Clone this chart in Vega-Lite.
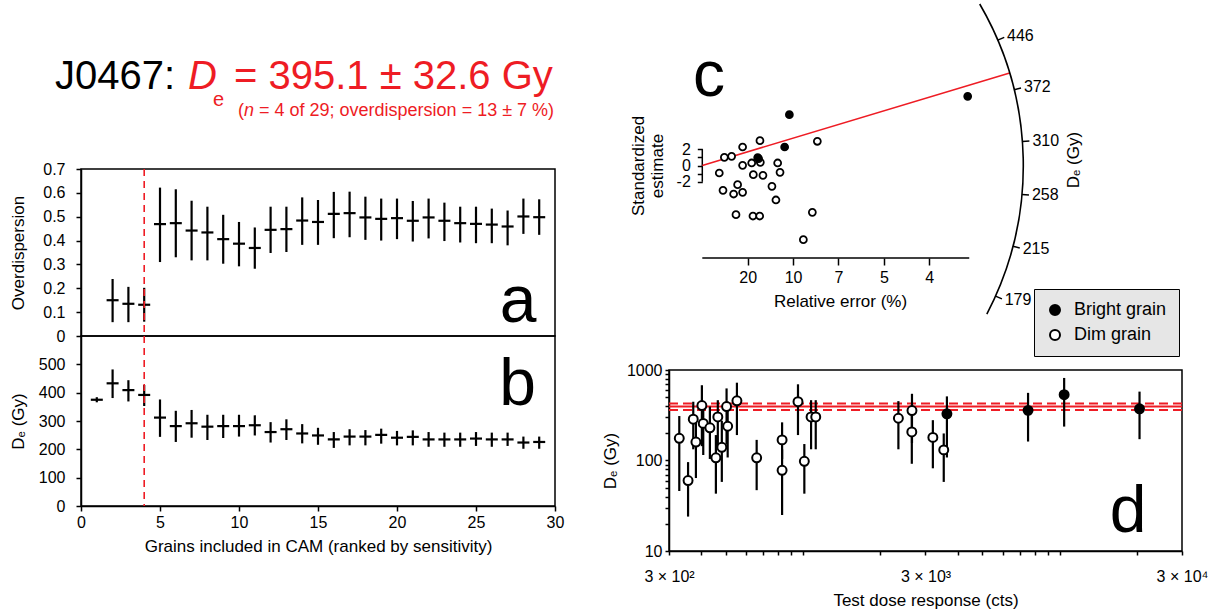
{
"$schema": "https://vega.github.io/schema/vega-lite/v6.json",
"background": "white",
"padding": {"left": 8, "top": 0, "right": 5, "bottom": 5},
"spacing": 35,
"datasets": {
 "cam": [
  {"n": 1, "od": null, "od_lo": null, "od_hi": null, "de": 375, "de_lo": 366, "de_hi": 384},
  {"n": 2, "od": 0.150, "od_lo": 0.058, "od_hi": 0.239, "de": 433, "de_lo": 381, "de_hi": 482},
  {"n": 3, "od": 0.135, "od_lo": 0.058, "od_hi": 0.206, "de": 409, "de_lo": 369, "de_hi": 444},
  {"n": 4, "od": 0.131, "od_lo": 0.060, "od_hi": 0.202, "de": 392, "de_lo": 353, "de_hi": 427},
  {"n": 5, "od": 0.469, "od_lo": 0.310, "od_hi": 0.622, "de": 312, "de_lo": 244, "de_hi": 376},
  {"n": 6, "od": 0.473, "od_lo": 0.330, "od_hi": 0.615, "de": 282, "de_lo": 226, "de_hi": 336},
  {"n": 7, "od": 0.442, "od_lo": 0.317, "od_hi": 0.567, "de": 292, "de_lo": 241, "de_hi": 339},
  {"n": 8, "od": 0.434, "od_lo": 0.317, "od_hi": 0.542, "de": 280, "de_lo": 233, "de_hi": 322},
  {"n": 9, "od": 0.406, "od_lo": 0.303, "od_hi": 0.508, "de": 282, "de_lo": 240, "de_hi": 322},
  {"n": 10, "od": 0.387, "od_lo": 0.292, "od_hi": 0.478, "de": 282, "de_lo": 245, "de_hi": 322},
  {"n": 11, "od": 0.369, "od_lo": 0.282, "od_hi": 0.455, "de": 285, "de_lo": 249, "de_hi": 320},
  {"n": 12, "od": 0.445, "od_lo": 0.348, "od_hi": 0.542, "de": 261, "de_lo": 224, "de_hi": 296},
  {"n": 13, "od": 0.448, "od_lo": 0.352, "od_hi": 0.542, "de": 271, "de_lo": 233, "de_hi": 306},
  {"n": 14, "od": 0.484, "od_lo": 0.382, "od_hi": 0.581, "de": 256, "de_lo": 221, "de_hi": 289},
  {"n": 15, "od": 0.478, "od_lo": 0.382, "od_hi": 0.570, "de": 249, "de_lo": 216, "de_hi": 276},
  {"n": 16, "od": 0.512, "od_lo": 0.410, "od_hi": 0.604, "de": 235, "de_lo": 205, "de_hi": 261},
  {"n": 17, "od": 0.515, "od_lo": 0.414, "od_hi": 0.605, "de": 245, "de_lo": 214, "de_hi": 271},
  {"n": 18, "od": 0.497, "od_lo": 0.403, "od_hi": 0.584, "de": 245, "de_lo": 214, "de_hi": 268},
  {"n": 19, "od": 0.491, "od_lo": 0.400, "od_hi": 0.576, "de": 251, "de_lo": 220, "de_hi": 273},
  {"n": 20, "od": 0.494, "od_lo": 0.406, "od_hi": 0.576, "de": 241, "de_lo": 214, "de_hi": 265},
  {"n": 21, "od": 0.483, "od_lo": 0.396, "od_hi": 0.566, "de": 244, "de_lo": 214, "de_hi": 267},
  {"n": 22, "od": 0.497, "od_lo": 0.409, "od_hi": 0.576, "de": 235, "de_lo": 209, "de_hi": 261},
  {"n": 23, "od": 0.483, "od_lo": 0.398, "od_hi": 0.559, "de": 235, "de_lo": 209, "de_hi": 259},
  {"n": 24, "od": 0.473, "od_lo": 0.392, "od_hi": 0.542, "de": 235, "de_lo": 209, "de_hi": 259},
  {"n": 25, "od": 0.470, "od_lo": 0.389, "od_hi": 0.542, "de": 238, "de_lo": 212, "de_hi": 261},
  {"n": 26, "od": 0.467, "od_lo": 0.389, "od_hi": 0.534, "de": 235, "de_lo": 209, "de_hi": 259},
  {"n": 27, "od": 0.459, "od_lo": 0.380, "od_hi": 0.526, "de": 235, "de_lo": 212, "de_hi": 259},
  {"n": 28, "od": 0.501, "od_lo": 0.428, "od_hi": 0.576, "de": 224, "de_lo": 202, "de_hi": 245},
  {"n": 29, "od": 0.498, "od_lo": 0.424, "od_hi": 0.573, "de": 226, "de_lo": 202, "de_hi": 245}
 ],
 "radial": [
  {"p": 2.43, "z": 1.00, "grain": "Dim grain"},
  {"p": 3.23, "z": 1.12, "grain": "Dim grain"},
  {"p": 4.44, "z": 2.27, "grain": "Dim grain"},
  {"p": 6.35, "z": 3.05, "grain": "Dim grain"},
  {"p": 12.67, "z": 2.97, "grain": "Dim grain"},
  {"p": 1.87, "z": -0.92, "grain": "Dim grain"},
  {"p": 4.44, "z": 0.02, "grain": "Dim grain"},
  {"p": 5.44, "z": 0.31, "grain": "Dim grain"},
  {"p": 6.39, "z": 0.39, "grain": "Dim grain"},
  {"p": 8.30, "z": 0.31, "grain": "Dim grain"},
  {"p": 5.62, "z": -1.12, "grain": "Dim grain"},
  {"p": 6.68, "z": -1.21, "grain": "Dim grain"},
  {"p": 8.56, "z": -0.84, "grain": "Dim grain"},
  {"p": 2.28, "z": -3.05, "grain": "Dim grain"},
  {"p": 3.89, "z": -2.35, "grain": "Dim grain"},
  {"p": 3.45, "z": -3.50, "grain": "Dim grain"},
  {"p": 4.44, "z": -3.29, "grain": "Dim grain"},
  {"p": 7.67, "z": -2.56, "grain": "Dim grain"},
  {"p": 8.11, "z": -4.23, "grain": "Dim grain"},
  {"p": 3.71, "z": -6.03, "grain": "Dim grain"},
  {"p": 5.58, "z": -6.20, "grain": "Dim grain"},
  {"p": 6.32, "z": -6.20, "grain": "Dim grain"},
  {"p": 12.12, "z": -5.75, "grain": "Dim grain"},
  {"p": 11.13, "z": -9.10, "grain": "Dim grain"},
  {"p": 6.20, "z": 0.85, "grain": "Dim grain"},
  {"p": 9.59, "z": 6.24, "grain": "Bright grain"},
  {"p": 9.07, "z": 2.27, "grain": "Bright grain"},
  {"p": 6.10, "z": 0.96, "grain": "Bright grain"},
  {"p": 29.23, "z": 8.49, "grain": "Bright grain"}
 ],
 "arcticks": [{"D": 446}, {"D": 372}, {"D": 310}, {"D": 258}, {"D": 215}, {"D": 179}],
 "dose": [
  {"tdr": 329, "de": 176, "lo": 46, "hi": 310, "grain": "Dim grain"},
  {"tdr": 356, "de": 60, "lo": 24, "hi": 96, "grain": "Dim grain"},
  {"tdr": 373, "de": 286, "lo": 133, "hi": 446, "grain": "Dim grain"},
  {"tdr": 382, "de": 160, "lo": 64, "hi": 286, "grain": "Dim grain"},
  {"tdr": 403, "de": 405, "lo": 144, "hi": 679, "grain": "Dim grain"},
  {"tdr": 408, "de": 257, "lo": 115, "hi": 446, "grain": "Dim grain"},
  {"tdr": 433, "de": 230, "lo": 104, "hi": 395, "grain": "Dim grain"},
  {"tdr": 457, "de": 107, "lo": 43, "hi": 191, "grain": "Dim grain"},
  {"tdr": 465, "de": 303, "lo": 133, "hi": 464, "grain": "Dim grain"},
  {"tdr": 482, "de": 140, "lo": 58, "hi": 275, "grain": "Dim grain"},
  {"tdr": 503, "de": 395, "lo": 150, "hi": 626, "grain": "Dim grain"},
  {"tdr": 508, "de": 239, "lo": 108, "hi": 446, "grain": "Dim grain"},
  {"tdr": 552, "de": 457, "lo": 191, "hi": 724, "grain": "Dim grain"},
  {"tdr": 659, "de": 107, "lo": 47, "hi": 169, "grain": "Dim grain"},
  {"tdr": 828, "de": 169, "lo": 104, "hi": 264, "grain": "Dim grain"},
  {"tdr": 828, "de": 78, "lo": 25, "hi": 133, "grain": "Dim grain"},
  {"tdr": 955, "de": 446, "lo": 191, "hi": 695, "grain": "Dim grain"},
  {"tdr": 1011, "de": 98, "lo": 43, "hi": 152, "grain": "Dim grain"},
  {"tdr": 1074, "de": 303, "lo": 133, "hi": 464, "grain": "Dim grain"},
  {"tdr": 1120, "de": 303, "lo": 133, "hi": 464, "grain": "Dim grain"},
  {"tdr": 2352, "de": 293, "lo": 133, "hi": 453, "grain": "Dim grain"},
  {"tdr": 2653, "de": 207, "lo": 92, "hi": 336, "grain": "Dim grain"},
  {"tdr": 2657, "de": 356, "lo": 156, "hi": 546, "grain": "Dim grain"},
  {"tdr": 3205, "de": 180, "lo": 82, "hi": 279, "grain": "Dim grain"},
  {"tdr": 3534, "de": 131, "lo": 58, "hi": 199, "grain": "Dim grain"},
  {"tdr": 3636, "de": 328, "lo": 108, "hi": 511, "grain": "Bright grain"},
  {"tdr": 7533, "de": 358, "lo": 162, "hi": 559, "grain": "Bright grain"},
  {"tdr": 10415, "de": 533, "lo": 237, "hi": 817, "grain": "Bright grain"},
  {"tdr": 20490, "de": 373, "lo": 172, "hi": 577, "grain": "Bright grain"}
 ],
 "cam_result": [{"de": 395.1, "lo": 362.5, "hi": 427.7}]
},
"hconcat": [
 {
  "vconcat": [
   {
    "width": 474, "height": 96, "view": {"stroke": null},
    "data": {"values": [{"k": 1}]},
    "layer": [
     {"mark": {"type": "text", "fontSize": 40, "align": "right", "baseline": "alphabetic", "color": "black"},
      "encoding": {"x": {"datum": 5.95, "type": "quantitative", "scale": {"domain": [0, 30], "nice": false}, "axis": null},
                   "y": {"datum": 0.8333, "type": "quantitative", "scale": {"domain": [0, 1], "nice": false}, "axis": null},
                   "text": {"value": "J0467:"}}},
     {"mark": {"type": "text", "fontSize": 40, "fontStyle": "italic", "align": "left", "baseline": "alphabetic", "color": "#ee1c24"},
      "encoding": {"x": {"datum": 6.772, "type": "quantitative", "axis": null}, "y": {"datum": 0.8333, "type": "quantitative", "axis": null}, "text": {"value": "D"}}},
     {"mark": {"type": "text", "fontSize": 20, "align": "left", "baseline": "alphabetic", "color": "#ee1c24"},
      "encoding": {"x": {"datum": 8.354, "type": "quantitative", "axis": null}, "y": {"datum": 0.6563, "type": "quantitative", "axis": null}, "text": {"value": "e"}}},
     {"mark": {"type": "text", "fontSize": 40, "align": "left", "baseline": "alphabetic", "color": "#ee1c24"},
      "encoding": {"x": {"datum": 9.684, "type": "quantitative", "axis": null}, "y": {"datum": 0.8333, "type": "quantitative", "axis": null}, "text": {"value": "= 395.1 ± 32.6 Gy"}}},
     {"mark": {"type": "text", "fontSize": 18, "align": "left", "baseline": "alphabetic", "color": "#ee1c24"},
      "encoding": {"x": {"datum": 9.937, "type": "quantitative", "axis": null}, "y": {"datum": 0.5521, "type": "quantitative", "axis": null}, "text": {"value": "("}}},
     {"mark": {"type": "text", "fontSize": 18, "fontStyle": "italic", "align": "left", "baseline": "alphabetic", "color": "#ee1c24"},
      "encoding": {"x": {"datum": 10.316, "type": "quantitative", "axis": null}, "y": {"datum": 0.5521, "type": "quantitative", "axis": null}, "text": {"value": "n"}}},
     {"mark": {"type": "text", "fontSize": 18, "align": "left", "baseline": "alphabetic", "color": "#ee1c24"},
      "encoding": {"x": {"datum": 11.266, "type": "quantitative", "axis": null}, "y": {"datum": 0.5521, "type": "quantitative", "axis": null}, "text": {"value": "= 4 of 29; overdispersion = 13 ± 7 %)"}}}
    ]
   },
   {
    "width": 474, "height": 167,
    "layer": [
     {"data": {"name": "cam"},
      "mark": {"type": "rule", "strokeWidth": 2.2, "color": "black"},
      "encoding": {"x": {"field": "n", "type": "quantitative", "scale": {"domain": [0, 30], "nice": false}, "axis": null},
                   "y": {"field": "od_lo", "type": "quantitative", "scale": {"domain": [0, 0.7], "nice": false},
                         "axis": {"values": [0, 0.1, 0.2, 0.3, 0.4, 0.5, 0.6, 0.7], "format": "~g", "title": "Overdispersion", "labelPadding": 11, "titlePadding": 15, "labelOverlap": false}},
                   "y2": {"field": "od_hi"}}},
     {"data": {"name": "cam"},
      "mark": {"type": "tick", "orient": "horizontal", "thickness": 2.2, "size": 12, "color": "black", "opacity": 1},
      "encoding": {"x": {"field": "n", "type": "quantitative", "axis": null},
                   "y": {"field": "od", "type": "quantitative",
                         "axis": {"values": [0, 0.1, 0.2, 0.3, 0.4, 0.5, 0.6, 0.7], "format": "~g", "title": "Overdispersion", "labelPadding": 11, "titlePadding": 15, "labelOverlap": false}}}},
     {"data": {"values": [{"k": 1}]},
      "mark": {"type": "rule", "color": "#ee1c24", "strokeDash": [7, 5], "strokeWidth": 1.6},
      "encoding": {"x": {"datum": 4, "type": "quantitative", "axis": null}}},
     {"data": {"values": [{"k": 1}]},
      "mark": {"type": "text", "fontSize": 66, "align": "center", "baseline": "alphabetic", "color": "black"},
      "encoding": {"x": {"datum": 27.66, "type": "quantitative", "axis": null},
                   "y": {"datum": 0.059, "type": "quantitative",
                         "axis": {"values": [0, 0.1, 0.2, 0.3, 0.4, 0.5, 0.6, 0.7], "format": "~g", "title": "Overdispersion", "labelPadding": 11, "titlePadding": 15, "labelOverlap": false}},
                   "text": {"value": "a"}}}
    ]
   },
   {
    "width": 474, "height": 170,
    "layer": [
     {"data": {"name": "cam"},
      "mark": {"type": "rule", "strokeWidth": 2.2, "color": "black"},
      "encoding": {"x": {"field": "n", "type": "quantitative", "scale": {"domain": [0, 30], "nice": false},
                         "axis": {"values": [0, 5, 10, 15, 20, 25, 30], "title": "Grains included in CAM (ranked by sensitivity)", "labelPadding": 3, "titlePadding": 8, "labelOverlap": false}},
                   "y": {"field": "de_lo", "type": "quantitative", "scale": {"domain": [0, 600], "nice": false},
                         "axis": {"values": [0, 100, 200, 300, 400, 500], "title": "Dₑ (Gy)", "labelPadding": 11, "titlePadding": 11, "labelOverlap": false}},
                   "y2": {"field": "de_hi"}}},
     {"data": {"name": "cam"},
      "mark": {"type": "tick", "orient": "horizontal", "thickness": 2.2, "size": 12, "color": "black", "opacity": 1},
      "encoding": {"x": {"field": "n", "type": "quantitative",
                         "axis": {"values": [0, 5, 10, 15, 20, 25, 30], "title": "Grains included in CAM (ranked by sensitivity)", "labelPadding": 3, "titlePadding": 8, "labelOverlap": false}},
                   "y": {"field": "de", "type": "quantitative",
                         "axis": {"values": [0, 100, 200, 300, 400, 500], "title": "Dₑ (Gy)", "labelPadding": 11, "titlePadding": 11, "labelOverlap": false}}}},
     {"data": {"values": [{"k": 1}]},
      "mark": {"type": "rule", "color": "#ee1c24", "strokeDash": [7, 5], "strokeWidth": 1.6},
      "encoding": {"x": {"datum": 4, "type": "quantitative",
                         "axis": {"values": [0, 5, 10, 15, 20, 25, 30], "title": "Grains included in CAM (ranked by sensitivity)", "labelPadding": 3, "titlePadding": 8, "labelOverlap": false}}}},
     {"data": {"values": [{"k": 1}]},
      "mark": {"type": "text", "fontSize": 66, "align": "center", "baseline": "alphabetic", "color": "black"},
      "encoding": {"x": {"datum": 27.63, "type": "quantitative",
                         "axis": {"values": [0, 5, 10, 15, 20, 25, 30], "title": "Grains included in CAM (ranked by sensitivity)", "labelPadding": 3, "titlePadding": 8, "labelOverlap": false}},
                   "y": {"datum": 357.6, "type": "quantitative",
                         "axis": {"values": [0, 100, 200, 300, 400, 500], "title": "Dₑ (Gy)", "labelPadding": 11, "titlePadding": 11, "labelOverlap": false}},
                   "text": {"value": "b"}}}
    ]
   }
  ],
  "spacing": 0,
  "bounds": "flush"
 },
 {
  "vconcat": [
   {
    "width": 298, "height": 185, "view": {"stroke": null},
    "resolve": {"scale": {"theta": "independent"}},
    "layer": [
     {"data": {"values": [{"k": 1}]},
      "mark": {"type": "rule", "stroke": "black", "strokeWidth": 1.5},
      "encoding": {"x": {"datum": 0, "type": "quantitative"}, "x2": {"datum": 29.4}, "y": {"datum": -11.35, "type": "quantitative"}}},
     {"data": {"values": [{"k": 1}]},
      "mark": {"type": "rule", "stroke": "black", "strokeWidth": 1.5},
      "encoding": {"x": {"datum": 0, "type": "quantitative"}, "y": {"datum": -2, "type": "quantitative"}, "y2": {"datum": 2}}},
     {"data": {"values": [{"k": 1}]},
      "mark": {"type": "arc", "radius": 321, "radius2": 0, "filled": false, "stroke": "#ee1c24", "strokeWidth": 1.6},
      "encoding": {"x": {"datum": 0, "type": "quantitative"}, "y": {"datum": 0, "type": "quantitative"},
                   "theta": {"datum": 395.1, "type": "quantitative", "stack": null, "scale": {"type": "log", "domain": [179, 446], "range": [1.9897, 1.1694], "nice": false}},
                   "theta2": {"datum": 395.1}}},
     {"data": {"values": [{"k": 1}]},
      "mark": {"type": "arc", "radius": 321, "radius2": 321, "filled": false, "stroke": "black", "strokeWidth": 1.6},
      "encoding": {"x": {"datum": 0, "type": "quantitative"}, "y": {"datum": 0, "type": "quantitative"},
                   "theta": {"datum": 513, "type": "quantitative", "stack": null, "scale": {"type": "log", "domain": [179, 446], "range": [1.9897, 1.1694], "nice": false}},
                   "theta2": {"datum": 167}}},
     {"data": {"name": "arcticks"},
      "mark": {"type": "arc", "radius": 328, "radius2": 321, "filled": false, "stroke": "black", "strokeWidth": 1.5},
      "encoding": {"x": {"datum": 0, "type": "quantitative"}, "y": {"datum": 0, "type": "quantitative"},
                   "theta": {"field": "D", "type": "quantitative", "stack": null, "scale": {"type": "log", "domain": [179, 446], "range": [1.9897, 1.1694], "nice": false}},
                   "theta2": {"field": "D"}}},
     {"data": {"name": "arcticks"},
      "mark": {"type": "text", "radius": 331, "align": "left", "baseline": "middle", "fontSize": 16, "color": "black"},
      "encoding": {"x": {"datum": 0, "type": "quantitative"}, "y": {"datum": 0, "type": "quantitative"},
                   "theta": {"field": "D", "type": "quantitative", "stack": null, "scale": {"type": "log", "domain": [179, 446], "range": [1.9897, 1.1694], "nice": false}},
                   "text": {"field": "D", "type": "quantitative"}}},
     {"data": {"values": [{"k": 1}]},
      "mark": {"type": "text", "radius": 372, "align": "center", "baseline": "middle", "fontSize": 17, "angle": 270, "color": "black"},
      "encoding": {"x": {"datum": 0, "type": "quantitative"}, "y": {"datum": 0, "type": "quantitative"},
                   "theta": {"datum": 290, "type": "quantitative", "stack": null, "scale": {"type": "log", "domain": [179, 446], "range": [1.9897, 1.1694], "nice": false}},
                   "text": {"value": "Dₑ (Gy)"}}},
     {"data": {"values": [{"k": 1}]},
      "mark": {"type": "text", "fontSize": 64, "align": "center", "baseline": "alphabetic", "color": "black"},
      "encoding": {"x": {"datum": 0.74, "type": "quantitative"}, "y": {"datum": 8.49, "type": "quantitative"}, "text": {"value": "c"}}},
     {"data": {"name": "radial"},
      "mark": {"type": "point", "shape": "circle", "filled": true, "size": 48, "stroke": "black", "strokeWidth": 1.8, "opacity": 1},
      "encoding": {
       "x": {"field": "p", "type": "quantitative", "scale": {"domain": [-3.667, 29.153], "nice": false, "zero": false},
             "axis": {"values": [5, 10, 15, 20, 25], "labelExpr": "datum.value == 5 ? '20' : datum.value == 10 ? '10' : datum.value == 15 ? '7' : datum.value == 20 ? '5' : '4'", "domain": false, "tickSize": 7, "labelPadding": 4, "title": "Relative error (%)", "titlePadding": 8, "titleX": 171, "labelOverlap": false}},
       "y": {"field": "z", "type": "quantitative", "scale": {"domain": [-11.35, 11.35], "nice": false, "zero": false},
             "axis": {"values": [-2, -1, 0, 1, 2], "labelExpr": "datum.value == 2 ? '2' : datum.value == 0 ? '0' : datum.value == -2 ? '-2' : ''", "domain": false, "offset": -33.3, "tickSize": 5, "labelPadding": 7, "title": ["Standardized", "estimate"], "titlePadding": 10, "labelOverlap": false}},
       "fill": {"field": "grain", "type": "nominal", "scale": {"domain": ["Bright grain", "Dim grain"], "range": ["black", "white"]}, "legend": null}
      }}
    ]
   },
   {
    "width": 298, "height": 112, "view": {"stroke": null},
    "data": {"values": [{"k": 1}]},
    "mark": {"type": "text"},
    "encoding": {"text": {"value": ""}}
   },
   {
    "width": 513, "height": 181,
    "layer": [
     {"data": {"name": "cam_result"},
      "mark": {"type": "rule", "color": "#ee1c24", "strokeWidth": 2},
      "encoding": {"y": {"field": "de", "type": "quantitative", "scale": {"type": "log", "domain": [10, 1000], "nice": false},
                         "axis": {"values": [10, 20, 30, 40, 50, 60, 70, 80, 90, 100, 200, 300, 400, 500, 600, 700, 800, 900, 1000], "labelExpr": "(datum.value == 10 || datum.value == 100 || datum.value == 1000) ? '' + datum.value : ''", "tickSize": 4, "labelPadding": 3, "title": "Dₑ (Gy)", "titlePadding": 7, "labelOverlap": false}}}},
     {"data": {"name": "cam_result"},
      "mark": {"type": "rule", "color": "#ee1c24", "strokeWidth": 2, "strokeDash": [9, 5]},
      "encoding": {"y": {"field": "lo", "type": "quantitative",
                         "axis": {"values": [10, 20, 30, 40, 50, 60, 70, 80, 90, 100, 200, 300, 400, 500, 600, 700, 800, 900, 1000], "labelExpr": "(datum.value == 10 || datum.value == 100 || datum.value == 1000) ? '' + datum.value : ''", "tickSize": 4, "labelPadding": 3, "title": "Dₑ (Gy)", "titlePadding": 7, "labelOverlap": false}}}},
     {"data": {"name": "cam_result"},
      "mark": {"type": "rule", "color": "#ee1c24", "strokeWidth": 2, "strokeDash": [9, 5]},
      "encoding": {"y": {"field": "hi", "type": "quantitative",
                         "axis": {"values": [10, 20, 30, 40, 50, 60, 70, 80, 90, 100, 200, 300, 400, 500, 600, 700, 800, 900, 1000], "labelExpr": "(datum.value == 10 || datum.value == 100 || datum.value == 1000) ? '' + datum.value : ''", "tickSize": 4, "labelPadding": 3, "title": "Dₑ (Gy)", "titlePadding": 7, "labelOverlap": false}}}},
     {"data": {"name": "dose"},
      "mark": {"type": "rule", "strokeWidth": 2.2, "color": "black"},
      "encoding": {"x": {"field": "tdr", "type": "quantitative", "scale": {"type": "log", "domain": [300, 30000], "nice": false},
                         "axis": {"values": [300, 400, 500, 600, 700, 800, 900, 1000, 2000, 3000, 4000, 5000, 6000, 7000, 8000, 9000, 10000, 20000, 30000], "labelExpr": "datum.value == 300 ? '3 × 10²' : datum.value == 3000 ? '3 × 10³' : datum.value == 30000 ? '3 × 10⁴' : ''", "tickSize": 4, "labelPadding": 13, "title": "Test dose response (cts)", "titlePadding": 8, "labelOverlap": false}},
                   "y": {"field": "lo", "type": "quantitative",
                         "axis": {"values": [10, 20, 30, 40, 50, 60, 70, 80, 90, 100, 200, 300, 400, 500, 600, 700, 800, 900, 1000], "labelExpr": "(datum.value == 10 || datum.value == 100 || datum.value == 1000) ? '' + datum.value : ''", "tickSize": 4, "labelPadding": 3, "title": "Dₑ (Gy)", "titlePadding": 7, "labelOverlap": false}},
                   "y2": {"field": "hi"}}},
     {"data": {"name": "dose"},
      "mark": {"type": "point", "shape": "circle", "filled": true, "size": 80, "stroke": "black", "strokeWidth": 2, "opacity": 1},
      "encoding": {
       "x": {"field": "tdr", "type": "quantitative",
             "axis": {"values": [300, 400, 500, 600, 700, 800, 900, 1000, 2000, 3000, 4000, 5000, 6000, 7000, 8000, 9000, 10000, 20000, 30000], "labelExpr": "datum.value == 300 ? '3 × 10²' : datum.value == 3000 ? '3 × 10³' : datum.value == 30000 ? '3 × 10⁴' : ''", "tickSize": 4, "labelPadding": 13, "title": "Test dose response (cts)", "titlePadding": 8, "labelOverlap": false}},
       "y": {"field": "de", "type": "quantitative",
             "axis": {"values": [10, 20, 30, 40, 50, 60, 70, 80, 90, 100, 200, 300, 400, 500, 600, 700, 800, 900, 1000], "labelExpr": "(datum.value == 10 || datum.value == 100 || datum.value == 1000) ? '' + datum.value : ''", "tickSize": 4, "labelPadding": 3, "title": "Dₑ (Gy)", "titlePadding": 7, "labelOverlap": false}},
       "fill": {"field": "grain", "type": "nominal", "scale": {"domain": ["Bright grain", "Dim grain"], "range": ["black", "white"]},
                "legend": {"orient": "none", "legendX": 365, "legendY": -81, "title": null, "fillColor": "#e6e6e6", "strokeColor": "black",
                           "padding": 12, "labelFontSize": 18, "symbolType": "circle", "symbolSize": 100, "symbolStrokeColor": "black",
                           "symbolStrokeWidth": 2, "labelOffset": 10, "rowPadding": 7}}
      }},
     {"data": {"values": [{"k": 1}]},
      "mark": {"type": "text", "fontSize": 66, "align": "center", "baseline": "alphabetic", "color": "black"},
      "encoding": {"x": {"datum": 18494, "type": "quantitative",
                         "axis": {"values": [300, 400, 500, 600, 700, 800, 900, 1000, 2000, 3000, 4000, 5000, 6000, 7000, 8000, 9000, 10000, 20000, 30000], "labelExpr": "datum.value == 300 ? '3 × 10²' : datum.value == 3000 ? '3 × 10³' : datum.value == 30000 ? '3 × 10⁴' : ''", "tickSize": 4, "labelPadding": 13, "title": "Test dose response (cts)", "titlePadding": 8, "labelOverlap": false}},
                   "y": {"datum": 16.2, "type": "quantitative",
                         "axis": {"values": [10, 20, 30, 40, 50, 60, 70, 80, 90, 100, 200, 300, 400, 500, 600, 700, 800, 900, 1000], "labelExpr": "(datum.value == 10 || datum.value == 100 || datum.value == 1000) ? '' + datum.value : ''", "tickSize": 4, "labelPadding": 3, "title": "Dₑ (Gy)", "titlePadding": 7, "labelOverlap": false}},
                   "text": {"value": "d"}}}
    ]
   }
  ],
  "spacing": 0,
  "bounds": "flush",
  "resolve": {"scale": {"fill": "independent"}, "legend": {"fill": "independent"}}
 }
],
"config": {
 "font": "Liberation Sans",
 "view": {"stroke": "black", "strokeWidth": 1.5},
 "axis": {"labelFont": "Liberation Sans", "titleFont": "Liberation Sans", "labelFontSize": 16, "titleFontSize": 17, "titleFontWeight": "normal",
          "labelColor": "black", "titleColor": "black", "tickColor": "black", "domainColor": "black", "domainWidth": 1.5, "tickWidth": 1.5,
          "grid": false, "labelFlush": false, "labelOverlap": false, "tickSize": 5},
 "legend": {"labelFont": "Liberation Sans", "labelColor": "black"},
 "text": {"font": "Liberation Sans", "color": "black"}
}
}
